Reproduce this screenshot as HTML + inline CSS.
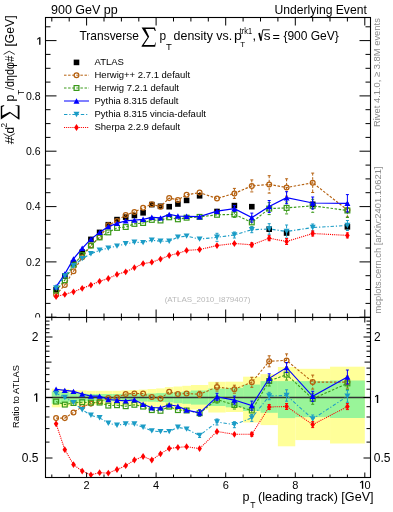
<!DOCTYPE html><html><head><meta charset="utf-8"><style>html,body{margin:0;padding:0;background:#fff;width:393px;height:512px;overflow:hidden}svg{display:block;will-change:transform}text{font-family:"Liberation Sans",sans-serif}</style></head><body><svg width="393" height="512" viewBox="0 0 393 512" font-family="Liberation Sans, sans-serif">
<defs><clipPath id="c1"><rect x="45" y="17" width="326" height="300"/></clipPath><clipPath id="c2"><rect x="45" y="317" width="326" height="160"/></clipPath></defs>
<rect width="393" height="512" fill="#fff"/>
<text x="51" y="14" font-size="12.5" fill="#000">900 GeV pp</text>
<text x="274.4" y="14" font-size="12.5" fill="#000" textLength="92.4" lengthAdjust="spacingAndGlyphs">Underlying Event</text>
<text x="207.5" y="302" font-size="8" fill="#b8b8b8" text-anchor="middle">(ATLAS_2010_I879407)</text>
<rect x="53.3" y="286.8" width="5.6" height="5.6" fill="#000"/>
<rect x="62.0" y="273.2" width="5.6" height="5.6" fill="#000"/>
<rect x="70.7" y="260.4" width="5.6" height="5.6" fill="#000"/>
<rect x="79.4" y="249.4" width="5.6" height="5.6" fill="#000"/>
<rect x="88.1" y="236.6" width="5.6" height="5.6" fill="#000"/>
<rect x="96.8" y="229.6" width="5.6" height="5.6" fill="#000"/>
<rect x="105.5" y="221.9" width="5.6" height="5.6" fill="#000"/>
<rect x="114.2" y="216.8" width="5.6" height="5.6" fill="#000"/>
<rect x="122.9" y="214.3" width="5.6" height="5.6" fill="#000"/>
<rect x="131.6" y="212.7" width="5.6" height="5.6" fill="#000"/>
<rect x="140.3" y="210.0" width="5.6" height="5.6" fill="#000"/>
<rect x="149.0" y="201.8" width="5.6" height="5.6" fill="#000"/>
<rect x="157.7" y="203.5" width="5.6" height="5.6" fill="#000"/>
<rect x="166.4" y="203.9" width="5.6" height="5.6" fill="#000"/>
<rect x="175.1" y="201.2" width="5.6" height="5.6" fill="#000"/>
<rect x="183.8" y="197.6" width="5.6" height="5.6" fill="#000"/>
<rect x="196.8" y="193.0" width="5.6" height="5.6" fill="#000"/>
<rect x="214.2" y="208.7" width="5.6" height="5.6" fill="#000"/>
<rect x="231.6" y="202.8" width="5.6" height="5.6" fill="#000"/>
<rect x="249.0" y="203.9" width="5.6" height="5.6" fill="#000"/>
<rect x="266.4" y="226.4" width="5.6" height="5.6" fill="#000"/>
<rect x="283.8" y="230.2" width="5.6" height="5.6" fill="#000"/>
<rect x="309.9" y="201.5" width="5.6" height="5.6" fill="#000"/>
<rect x="344.6" y="224.0" width="5.6" height="5.6" fill="#000"/>
<polyline points="56.1,294.8 64.8,285.0 73.5,271.2 82.2,257.2 90.9,245.5 99.6,237.2 108.3,225.3 117.0,220.9 125.7,215.0 134.4,212.0 143.1,207.7 151.8,204.2 160.5,206.7 169.2,198.1 177.9,199.9 186.6,194.8 199.6,192.6 217.0,198.5 234.4,193.4 251.8,185.9 269.2,184.4 286.6,187.5 312.7,182.8 347.4,210.0" fill="none" stroke="#b5600f" stroke-width="1.15" stroke-dasharray="2.5 1.6" clip-path="url(#c1)"/>
<path d="M234.4,188.4V198.4" stroke="#b5600f" stroke-width="1" stroke-dasharray="2.5 1.6" fill="none" clip-path="url(#c1)"/>
<path d="M232.9,188.4H235.9M232.9,198.4H235.9" stroke="#b5600f" stroke-width="1" fill="none" clip-path="url(#c1)"/>
<path d="M251.8,179.9V191.9" stroke="#b5600f" stroke-width="1" stroke-dasharray="2.5 1.6" fill="none" clip-path="url(#c1)"/>
<path d="M250.3,179.9H253.3M250.3,191.9H253.3" stroke="#b5600f" stroke-width="1" fill="none" clip-path="url(#c1)"/>
<path d="M269.2,175.7V193.1" stroke="#b5600f" stroke-width="1" stroke-dasharray="2.5 1.6" fill="none" clip-path="url(#c1)"/>
<path d="M267.7,175.7H270.7M267.7,193.1H270.7" stroke="#b5600f" stroke-width="1" fill="none" clip-path="url(#c1)"/>
<path d="M286.6,178.8V196.2" stroke="#b5600f" stroke-width="1" stroke-dasharray="2.5 1.6" fill="none" clip-path="url(#c1)"/>
<path d="M285.1,178.8H288.1M285.1,196.2H288.1" stroke="#b5600f" stroke-width="1" fill="none" clip-path="url(#c1)"/>
<path d="M312.7,173.1V192.5" stroke="#b5600f" stroke-width="1" stroke-dasharray="2.5 1.6" fill="none" clip-path="url(#c1)"/>
<path d="M311.2,173.1H314.2M311.2,192.5H314.2" stroke="#b5600f" stroke-width="1" fill="none" clip-path="url(#c1)"/>
<path d="M347.4,203.0V217.0" stroke="#b5600f" stroke-width="1" stroke-dasharray="2.5 1.6" fill="none" clip-path="url(#c1)"/>
<path d="M345.9,203.0H348.9M345.9,217.0H348.9" stroke="#b5600f" stroke-width="1" fill="none" clip-path="url(#c1)"/>
<circle cx="56.1" cy="294.8" r="2.4" fill="none" stroke="#b5600f" stroke-width="1.25"/>
<circle cx="64.8" cy="285.0" r="2.4" fill="none" stroke="#b5600f" stroke-width="1.25"/>
<circle cx="73.5" cy="271.2" r="2.4" fill="none" stroke="#b5600f" stroke-width="1.25"/>
<circle cx="82.2" cy="257.2" r="2.4" fill="none" stroke="#b5600f" stroke-width="1.25"/>
<circle cx="90.9" cy="245.5" r="2.4" fill="none" stroke="#b5600f" stroke-width="1.25"/>
<circle cx="99.6" cy="237.2" r="2.4" fill="none" stroke="#b5600f" stroke-width="1.25"/>
<circle cx="108.3" cy="225.3" r="2.4" fill="none" stroke="#b5600f" stroke-width="1.25"/>
<circle cx="117.0" cy="220.9" r="2.4" fill="none" stroke="#b5600f" stroke-width="1.25"/>
<circle cx="125.7" cy="215.0" r="2.4" fill="none" stroke="#b5600f" stroke-width="1.25"/>
<circle cx="134.4" cy="212.0" r="2.4" fill="none" stroke="#b5600f" stroke-width="1.25"/>
<circle cx="143.1" cy="207.7" r="2.4" fill="none" stroke="#b5600f" stroke-width="1.25"/>
<circle cx="151.8" cy="204.2" r="2.4" fill="none" stroke="#b5600f" stroke-width="1.25"/>
<circle cx="160.5" cy="206.7" r="2.4" fill="none" stroke="#b5600f" stroke-width="1.25"/>
<circle cx="169.2" cy="198.1" r="2.4" fill="none" stroke="#b5600f" stroke-width="1.25"/>
<circle cx="177.9" cy="199.9" r="2.4" fill="none" stroke="#b5600f" stroke-width="1.25"/>
<circle cx="186.6" cy="194.8" r="2.4" fill="none" stroke="#b5600f" stroke-width="1.25"/>
<circle cx="199.6" cy="192.6" r="2.4" fill="none" stroke="#b5600f" stroke-width="1.25"/>
<circle cx="217.0" cy="198.5" r="2.4" fill="none" stroke="#b5600f" stroke-width="1.25"/>
<circle cx="234.4" cy="193.4" r="2.4" fill="none" stroke="#b5600f" stroke-width="1.25"/>
<circle cx="251.8" cy="185.9" r="2.4" fill="none" stroke="#b5600f" stroke-width="1.25"/>
<circle cx="269.2" cy="184.4" r="2.4" fill="none" stroke="#b5600f" stroke-width="1.25"/>
<circle cx="286.6" cy="187.5" r="2.4" fill="none" stroke="#b5600f" stroke-width="1.25"/>
<circle cx="312.7" cy="182.8" r="2.4" fill="none" stroke="#b5600f" stroke-width="1.25"/>
<circle cx="347.4" cy="210.0" r="2.4" fill="none" stroke="#b5600f" stroke-width="1.25"/>
<polyline points="56.1,290.6 64.8,280.2 73.5,264.6 82.2,255.1 90.9,245.5 99.6,237.4 108.3,232.4 117.0,227.9 125.7,227.0 134.4,223.9 143.1,223.0 151.8,219.9 160.5,220.5 169.2,217.3 177.9,219.3 186.6,217.7 199.6,216.9 217.0,214.8 234.4,214.4 251.8,222.4 269.2,208.6 286.6,207.9 312.7,205.8 347.4,210.5" fill="none" stroke="#3a9a1a" stroke-width="1.15" stroke-dasharray="2.5 1.6" clip-path="url(#c1)"/>
<path d="M234.4,211.4V217.4" stroke="#3a9a1a" stroke-width="1" stroke-dasharray="2.5 1.6" fill="none" clip-path="url(#c1)"/>
<path d="M232.9,211.4H235.9M232.9,217.4H235.9" stroke="#3a9a1a" stroke-width="1" fill="none" clip-path="url(#c1)"/>
<path d="M251.8,217.9V226.9" stroke="#3a9a1a" stroke-width="1" stroke-dasharray="2.5 1.6" fill="none" clip-path="url(#c1)"/>
<path d="M250.3,217.9H253.3M250.3,226.9H253.3" stroke="#3a9a1a" stroke-width="1" fill="none" clip-path="url(#c1)"/>
<path d="M269.2,202.6V214.6" stroke="#3a9a1a" stroke-width="1" stroke-dasharray="2.5 1.6" fill="none" clip-path="url(#c1)"/>
<path d="M267.7,202.6H270.7M267.7,214.6H270.7" stroke="#3a9a1a" stroke-width="1" fill="none" clip-path="url(#c1)"/>
<path d="M286.6,201.9V213.9" stroke="#3a9a1a" stroke-width="1" stroke-dasharray="2.5 1.6" fill="none" clip-path="url(#c1)"/>
<path d="M285.1,201.9H288.1M285.1,213.9H288.1" stroke="#3a9a1a" stroke-width="1" fill="none" clip-path="url(#c1)"/>
<path d="M312.7,199.3V212.3" stroke="#3a9a1a" stroke-width="1" stroke-dasharray="2.5 1.6" fill="none" clip-path="url(#c1)"/>
<path d="M311.2,199.3H314.2M311.2,212.3H314.2" stroke="#3a9a1a" stroke-width="1" fill="none" clip-path="url(#c1)"/>
<path d="M347.4,203.5V217.5" stroke="#3a9a1a" stroke-width="1" stroke-dasharray="2.5 1.6" fill="none" clip-path="url(#c1)"/>
<path d="M345.9,203.5H348.9M345.9,217.5H348.9" stroke="#3a9a1a" stroke-width="1" fill="none" clip-path="url(#c1)"/>
<rect x="53.7" y="288.2" width="4.8" height="4.8" fill="none" stroke="#3a9a1a" stroke-width="1.2"/>
<rect x="62.4" y="277.8" width="4.8" height="4.8" fill="none" stroke="#3a9a1a" stroke-width="1.2"/>
<rect x="71.1" y="262.2" width="4.8" height="4.8" fill="none" stroke="#3a9a1a" stroke-width="1.2"/>
<rect x="79.8" y="252.7" width="4.8" height="4.8" fill="none" stroke="#3a9a1a" stroke-width="1.2"/>
<rect x="88.5" y="243.1" width="4.8" height="4.8" fill="none" stroke="#3a9a1a" stroke-width="1.2"/>
<rect x="97.2" y="235.0" width="4.8" height="4.8" fill="none" stroke="#3a9a1a" stroke-width="1.2"/>
<rect x="105.9" y="230.0" width="4.8" height="4.8" fill="none" stroke="#3a9a1a" stroke-width="1.2"/>
<rect x="114.6" y="225.5" width="4.8" height="4.8" fill="none" stroke="#3a9a1a" stroke-width="1.2"/>
<rect x="123.3" y="224.6" width="4.8" height="4.8" fill="none" stroke="#3a9a1a" stroke-width="1.2"/>
<rect x="132.0" y="221.5" width="4.8" height="4.8" fill="none" stroke="#3a9a1a" stroke-width="1.2"/>
<rect x="140.7" y="220.6" width="4.8" height="4.8" fill="none" stroke="#3a9a1a" stroke-width="1.2"/>
<rect x="149.4" y="217.5" width="4.8" height="4.8" fill="none" stroke="#3a9a1a" stroke-width="1.2"/>
<rect x="158.1" y="218.1" width="4.8" height="4.8" fill="none" stroke="#3a9a1a" stroke-width="1.2"/>
<rect x="166.8" y="214.9" width="4.8" height="4.8" fill="none" stroke="#3a9a1a" stroke-width="1.2"/>
<rect x="175.5" y="216.9" width="4.8" height="4.8" fill="none" stroke="#3a9a1a" stroke-width="1.2"/>
<rect x="184.2" y="215.3" width="4.8" height="4.8" fill="none" stroke="#3a9a1a" stroke-width="1.2"/>
<rect x="197.2" y="214.5" width="4.8" height="4.8" fill="none" stroke="#3a9a1a" stroke-width="1.2"/>
<rect x="214.6" y="212.4" width="4.8" height="4.8" fill="none" stroke="#3a9a1a" stroke-width="1.2"/>
<rect x="232.0" y="212.0" width="4.8" height="4.8" fill="none" stroke="#3a9a1a" stroke-width="1.2"/>
<rect x="249.4" y="220.0" width="4.8" height="4.8" fill="none" stroke="#3a9a1a" stroke-width="1.2"/>
<rect x="266.8" y="206.2" width="4.8" height="4.8" fill="none" stroke="#3a9a1a" stroke-width="1.2"/>
<rect x="284.2" y="205.5" width="4.8" height="4.8" fill="none" stroke="#3a9a1a" stroke-width="1.2"/>
<rect x="310.3" y="203.4" width="4.8" height="4.8" fill="none" stroke="#3a9a1a" stroke-width="1.2"/>
<rect x="345.0" y="208.1" width="4.8" height="4.8" fill="none" stroke="#3a9a1a" stroke-width="1.2"/>
<polyline points="56.1,286.8 64.8,274.0 73.5,258.9 82.2,248.3 90.9,239.1 99.6,232.4 108.3,226.6 117.0,223.4 125.7,220.9 134.4,220.1 143.1,219.3 151.8,217.3 160.5,217.9 169.2,214.4 177.9,216.0 186.6,216.3 199.6,216.7 217.0,211.2 234.4,208.6 251.8,217.6 269.2,206.5 286.6,197.7 312.7,203.0 347.4,203.3" fill="none" stroke="#0000ff" stroke-width="1.25" clip-path="url(#c1)"/>
<path d="M234.4,205.6V211.6" stroke="#0000ff" stroke-width="1" fill="none" clip-path="url(#c1)"/>
<path d="M232.9,205.6H235.9M232.9,211.6H235.9" stroke="#0000ff" stroke-width="1" fill="none" clip-path="url(#c1)"/>
<path d="M251.8,213.1V222.1" stroke="#0000ff" stroke-width="1" fill="none" clip-path="url(#c1)"/>
<path d="M250.3,213.1H253.3M250.3,222.1H253.3" stroke="#0000ff" stroke-width="1" fill="none" clip-path="url(#c1)"/>
<path d="M269.2,200.5V212.5" stroke="#0000ff" stroke-width="1" fill="none" clip-path="url(#c1)"/>
<path d="M267.7,200.5H270.7M267.7,212.5H270.7" stroke="#0000ff" stroke-width="1" fill="none" clip-path="url(#c1)"/>
<path d="M286.6,191.7V203.7" stroke="#0000ff" stroke-width="1" fill="none" clip-path="url(#c1)"/>
<path d="M285.1,191.7H288.1M285.1,203.7H288.1" stroke="#0000ff" stroke-width="1" fill="none" clip-path="url(#c1)"/>
<path d="M312.7,197.0V209.0" stroke="#0000ff" stroke-width="1" fill="none" clip-path="url(#c1)"/>
<path d="M311.2,197.0H314.2M311.2,209.0H314.2" stroke="#0000ff" stroke-width="1" fill="none" clip-path="url(#c1)"/>
<path d="M347.4,194.6V212.0" stroke="#0000ff" stroke-width="1" fill="none" clip-path="url(#c1)"/>
<path d="M345.9,194.6H348.9M345.9,212.0H348.9" stroke="#0000ff" stroke-width="1" fill="none" clip-path="url(#c1)"/>
<path d="M56.1,284.1L59.1,289.5L53.1,289.5Z" fill="#0000ff"/>
<path d="M64.8,271.3L67.8,276.7L61.8,276.7Z" fill="#0000ff"/>
<path d="M73.5,256.2L76.5,261.6L70.5,261.6Z" fill="#0000ff"/>
<path d="M82.2,245.6L85.2,251.0L79.2,251.0Z" fill="#0000ff"/>
<path d="M90.9,236.4L93.9,241.8L87.9,241.8Z" fill="#0000ff"/>
<path d="M99.6,229.7L102.6,235.1L96.6,235.1Z" fill="#0000ff"/>
<path d="M108.3,223.9L111.3,229.3L105.3,229.3Z" fill="#0000ff"/>
<path d="M117.0,220.7L120.0,226.1L114.0,226.1Z" fill="#0000ff"/>
<path d="M125.7,218.2L128.7,223.6L122.7,223.6Z" fill="#0000ff"/>
<path d="M134.4,217.4L137.4,222.8L131.4,222.8Z" fill="#0000ff"/>
<path d="M143.1,216.6L146.1,222.0L140.1,222.0Z" fill="#0000ff"/>
<path d="M151.8,214.6L154.8,220.0L148.8,220.0Z" fill="#0000ff"/>
<path d="M160.5,215.2L163.5,220.6L157.5,220.6Z" fill="#0000ff"/>
<path d="M169.2,211.7L172.2,217.1L166.2,217.1Z" fill="#0000ff"/>
<path d="M177.9,213.3L180.9,218.7L174.9,218.7Z" fill="#0000ff"/>
<path d="M186.6,213.6L189.6,219.0L183.6,219.0Z" fill="#0000ff"/>
<path d="M199.6,214.0L202.6,219.4L196.6,219.4Z" fill="#0000ff"/>
<path d="M217.0,208.5L220.0,213.9L214.0,213.9Z" fill="#0000ff"/>
<path d="M234.4,205.9L237.4,211.3L231.4,211.3Z" fill="#0000ff"/>
<path d="M251.8,214.9L254.8,220.3L248.8,220.3Z" fill="#0000ff"/>
<path d="M269.2,203.8L272.2,209.2L266.2,209.2Z" fill="#0000ff"/>
<path d="M286.6,195.0L289.6,200.4L283.6,200.4Z" fill="#0000ff"/>
<path d="M312.7,200.3L315.7,205.7L309.7,205.7Z" fill="#0000ff"/>
<path d="M347.4,200.6L350.4,206.0L344.4,206.0Z" fill="#0000ff"/>
<polyline points="56.1,288.0 64.8,276.0 73.5,265.8 82.2,258.6 90.9,253.8 99.6,250.2 108.3,248.1 117.0,246.1 125.7,243.8 134.4,242.3 143.1,242.6 151.8,240.2 160.5,241.2 169.2,241.2 177.9,237.1 186.6,236.1 199.6,239.1 217.0,237.3 234.4,235.0 251.8,229.7 269.2,229.0 286.6,231.5 312.7,227.5 347.4,225.5" fill="none" stroke="#1b9cc6" stroke-width="1.15" stroke-dasharray="3.4 1.9 1.2 1.9" clip-path="url(#c1)"/>
<path d="M217.0,233.3V241.3" stroke="#1b9cc6" stroke-width="1" stroke-dasharray="3.4 1.9 1.2 1.9" fill="none" clip-path="url(#c1)"/>
<path d="M215.5,233.3H218.5M215.5,241.3H218.5" stroke="#1b9cc6" stroke-width="1" fill="none" clip-path="url(#c1)"/>
<path d="M234.4,232.0V238.0" stroke="#1b9cc6" stroke-width="1" stroke-dasharray="3.4 1.9 1.2 1.9" fill="none" clip-path="url(#c1)"/>
<path d="M232.9,232.0H235.9M232.9,238.0H235.9" stroke="#1b9cc6" stroke-width="1" fill="none" clip-path="url(#c1)"/>
<path d="M251.8,226.7V232.7" stroke="#1b9cc6" stroke-width="1" stroke-dasharray="3.4 1.9 1.2 1.9" fill="none" clip-path="url(#c1)"/>
<path d="M250.3,226.7H253.3M250.3,232.7H253.3" stroke="#1b9cc6" stroke-width="1" fill="none" clip-path="url(#c1)"/>
<path d="M269.2,223.7V234.3" stroke="#1b9cc6" stroke-width="1" stroke-dasharray="3.4 1.9 1.2 1.9" fill="none" clip-path="url(#c1)"/>
<path d="M267.7,223.7H270.7M267.7,234.3H270.7" stroke="#1b9cc6" stroke-width="1" fill="none" clip-path="url(#c1)"/>
<path d="M286.6,225.0V238.0" stroke="#1b9cc6" stroke-width="1" stroke-dasharray="3.4 1.9 1.2 1.9" fill="none" clip-path="url(#c1)"/>
<path d="M285.1,225.0H288.1M285.1,238.0H288.1" stroke="#1b9cc6" stroke-width="1" fill="none" clip-path="url(#c1)"/>
<path d="M312.7,224.0V231.0" stroke="#1b9cc6" stroke-width="1" stroke-dasharray="3.4 1.9 1.2 1.9" fill="none" clip-path="url(#c1)"/>
<path d="M311.2,224.0H314.2M311.2,231.0H314.2" stroke="#1b9cc6" stroke-width="1" fill="none" clip-path="url(#c1)"/>
<path d="M347.4,220.5V230.5" stroke="#1b9cc6" stroke-width="1" stroke-dasharray="3.4 1.9 1.2 1.9" fill="none" clip-path="url(#c1)"/>
<path d="M345.9,220.5H348.9M345.9,230.5H348.9" stroke="#1b9cc6" stroke-width="1" fill="none" clip-path="url(#c1)"/>
<path d="M56.1,290.7L59.1,285.3L53.1,285.3Z" fill="#1b9cc6"/>
<path d="M64.8,278.7L67.8,273.3L61.8,273.3Z" fill="#1b9cc6"/>
<path d="M73.5,268.5L76.5,263.1L70.5,263.1Z" fill="#1b9cc6"/>
<path d="M82.2,261.3L85.2,255.9L79.2,255.9Z" fill="#1b9cc6"/>
<path d="M90.9,256.5L93.9,251.1L87.9,251.1Z" fill="#1b9cc6"/>
<path d="M99.6,252.9L102.6,247.5L96.6,247.5Z" fill="#1b9cc6"/>
<path d="M108.3,250.8L111.3,245.4L105.3,245.4Z" fill="#1b9cc6"/>
<path d="M117.0,248.8L120.0,243.4L114.0,243.4Z" fill="#1b9cc6"/>
<path d="M125.7,246.5L128.7,241.1L122.7,241.1Z" fill="#1b9cc6"/>
<path d="M134.4,245.0L137.4,239.6L131.4,239.6Z" fill="#1b9cc6"/>
<path d="M143.1,245.3L146.1,239.9L140.1,239.9Z" fill="#1b9cc6"/>
<path d="M151.8,242.9L154.8,237.5L148.8,237.5Z" fill="#1b9cc6"/>
<path d="M160.5,243.9L163.5,238.5L157.5,238.5Z" fill="#1b9cc6"/>
<path d="M169.2,243.9L172.2,238.5L166.2,238.5Z" fill="#1b9cc6"/>
<path d="M177.9,239.8L180.9,234.4L174.9,234.4Z" fill="#1b9cc6"/>
<path d="M186.6,238.8L189.6,233.4L183.6,233.4Z" fill="#1b9cc6"/>
<path d="M199.6,241.8L202.6,236.4L196.6,236.4Z" fill="#1b9cc6"/>
<path d="M217.0,240.0L220.0,234.6L214.0,234.6Z" fill="#1b9cc6"/>
<path d="M234.4,237.7L237.4,232.3L231.4,232.3Z" fill="#1b9cc6"/>
<path d="M251.8,232.4L254.8,227.0L248.8,227.0Z" fill="#1b9cc6"/>
<path d="M269.2,231.7L272.2,226.3L266.2,226.3Z" fill="#1b9cc6"/>
<path d="M286.6,234.2L289.6,228.8L283.6,228.8Z" fill="#1b9cc6"/>
<path d="M312.7,230.2L315.7,224.8L309.7,224.8Z" fill="#1b9cc6"/>
<path d="M347.4,228.2L350.4,222.8L344.4,222.8Z" fill="#1b9cc6"/>
<polyline points="56.1,296.5 64.8,294.4 73.5,291.8 82.2,288.3 90.9,285.1 99.6,281.3 108.3,278.5 117.0,274.4 125.7,271.8 134.4,267.7 143.1,263.6 151.8,262.2 160.5,259.1 169.2,255.5 177.9,253.4 186.6,250.4 199.6,249.5 217.0,245.6 234.4,243.5 251.8,244.8 269.2,238.2 286.6,241.5 312.7,233.5 347.4,235.4" fill="none" stroke="#ff0000" stroke-width="1.15" stroke-dasharray="1.1 1.0" clip-path="url(#c1)"/>
<path d="M251.8,242.8V246.8" stroke="#ff0000" stroke-width="1" stroke-dasharray="1.1 1.0" fill="none" clip-path="url(#c1)"/>
<path d="M250.3,242.8H253.3M250.3,246.8H253.3" stroke="#ff0000" stroke-width="1" fill="none" clip-path="url(#c1)"/>
<path d="M269.2,235.7V240.7" stroke="#ff0000" stroke-width="1" stroke-dasharray="1.1 1.0" fill="none" clip-path="url(#c1)"/>
<path d="M267.7,235.7H270.7M267.7,240.7H270.7" stroke="#ff0000" stroke-width="1" fill="none" clip-path="url(#c1)"/>
<path d="M286.6,238.5V244.5" stroke="#ff0000" stroke-width="1" stroke-dasharray="1.1 1.0" fill="none" clip-path="url(#c1)"/>
<path d="M285.1,238.5H288.1M285.1,244.5H288.1" stroke="#ff0000" stroke-width="1" fill="none" clip-path="url(#c1)"/>
<path d="M312.7,231.0V236.0" stroke="#ff0000" stroke-width="1" stroke-dasharray="1.1 1.0" fill="none" clip-path="url(#c1)"/>
<path d="M311.2,231.0H314.2M311.2,236.0H314.2" stroke="#ff0000" stroke-width="1" fill="none" clip-path="url(#c1)"/>
<path d="M347.4,232.9V237.9" stroke="#ff0000" stroke-width="1" stroke-dasharray="1.1 1.0" fill="none" clip-path="url(#c1)"/>
<path d="M345.9,232.9H348.9M345.9,237.9H348.9" stroke="#ff0000" stroke-width="1" fill="none" clip-path="url(#c1)"/>
<path d="M56.1,293.1L58.4,296.5L56.1,299.9L53.8,296.5Z" fill="#ff0000"/>
<path d="M64.8,291.0L67.1,294.4L64.8,297.8L62.5,294.4Z" fill="#ff0000"/>
<path d="M73.5,288.4L75.8,291.8L73.5,295.2L71.2,291.8Z" fill="#ff0000"/>
<path d="M82.2,284.9L84.5,288.3L82.2,291.7L79.9,288.3Z" fill="#ff0000"/>
<path d="M90.9,281.7L93.2,285.1L90.9,288.5L88.6,285.1Z" fill="#ff0000"/>
<path d="M99.6,277.9L101.9,281.3L99.6,284.7L97.3,281.3Z" fill="#ff0000"/>
<path d="M108.3,275.1L110.6,278.5L108.3,281.9L106.0,278.5Z" fill="#ff0000"/>
<path d="M117.0,271.0L119.3,274.4L117.0,277.8L114.7,274.4Z" fill="#ff0000"/>
<path d="M125.7,268.4L128.0,271.8L125.7,275.2L123.4,271.8Z" fill="#ff0000"/>
<path d="M134.4,264.3L136.7,267.7L134.4,271.1L132.1,267.7Z" fill="#ff0000"/>
<path d="M143.1,260.2L145.4,263.6L143.1,267.0L140.8,263.6Z" fill="#ff0000"/>
<path d="M151.8,258.8L154.1,262.2L151.8,265.6L149.5,262.2Z" fill="#ff0000"/>
<path d="M160.5,255.7L162.8,259.1L160.5,262.5L158.2,259.1Z" fill="#ff0000"/>
<path d="M169.2,252.1L171.5,255.5L169.2,258.9L166.9,255.5Z" fill="#ff0000"/>
<path d="M177.9,250.0L180.2,253.4L177.9,256.8L175.6,253.4Z" fill="#ff0000"/>
<path d="M186.6,247.0L188.9,250.4L186.6,253.8L184.3,250.4Z" fill="#ff0000"/>
<path d="M199.6,246.1L201.9,249.5L199.6,252.9L197.3,249.5Z" fill="#ff0000"/>
<path d="M217.0,242.2L219.3,245.6L217.0,249.0L214.7,245.6Z" fill="#ff0000"/>
<path d="M234.4,240.1L236.7,243.5L234.4,246.9L232.1,243.5Z" fill="#ff0000"/>
<path d="M251.8,241.4L254.1,244.8L251.8,248.2L249.5,244.8Z" fill="#ff0000"/>
<path d="M269.2,234.8L271.5,238.2L269.2,241.6L266.9,238.2Z" fill="#ff0000"/>
<path d="M286.6,238.1L288.9,241.5L286.6,244.9L284.3,241.5Z" fill="#ff0000"/>
<path d="M312.7,230.1L315.0,233.5L312.7,236.9L310.4,233.5Z" fill="#ff0000"/>
<path d="M347.4,232.0L349.7,235.4L347.4,238.8L345.1,235.4Z" fill="#ff0000"/>
<text x="79.5" y="40.4" font-size="13.2" fill="#000" textLength="59.4" lengthAdjust="spacingAndGlyphs">Transverse</text>
<path d="M141.60,27.60L154.90,27.60L155.76,31.04L154.90,31.04L153.90,29.03L145.46,29.03L149.18,36.86L143.75,44.89L154.47,44.89L155.76,41.93L155.90,41.93L155.19,46.70L141.60,46.70L141.60,45.94L147.61,37.15Z" fill="#000"/>
<text x="159.6" y="40.2" font-size="12.8" fill="#000" textLength="6.6" lengthAdjust="spacingAndGlyphs">p</text>
<text x="166.0" y="50.4" font-size="8.6" fill="#000" textLength="5.8" lengthAdjust="spacingAndGlyphs">T</text>
<text x="173.6" y="40.2" font-size="12.8" fill="#000" textLength="58.6" lengthAdjust="spacingAndGlyphs">density vs.</text>
<text x="233.9" y="40.2" font-size="13.4" fill="#000" textLength="7.8" lengthAdjust="spacingAndGlyphs">p</text>
<text x="239.8" y="34.3" font-size="8.5" fill="#000" textLength="12.2" lengthAdjust="spacingAndGlyphs">trk1</text>
<text x="240.2" y="46.6" font-size="8.0" fill="#000">T</text>
<text x="252.6" y="40.2" font-size="12.8" fill="#000">,</text>
<path d="M259.1,33.0L261.0,40.6" fill="none" stroke="#000" stroke-width="1.7"/><path d="M261.0,40.6L262.8,29.8H269.8" fill="none" stroke="#000" stroke-width="0.9"/>
<text x="263.8" y="40.2" font-size="12.8" fill="#000" textLength="6.8" lengthAdjust="spacingAndGlyphs">s</text>
<text x="272.4" y="40.6" font-size="12" fill="#000" textLength="7.4" lengthAdjust="spacingAndGlyphs">=</text>
<text x="283.4" y="40.2" font-size="12.8" fill="#000" textLength="55.4" lengthAdjust="spacingAndGlyphs">{900 GeV}</text>
<text x="94.5" y="65.1" font-size="9.5" fill="#000">ATLAS</text>
<text x="94.5" y="77.9" font-size="9.5" fill="#000">Herwig++ 2.7.1 default</text>
<text x="94.5" y="90.7" font-size="9.5" fill="#000">Herwig 7.2.1 default</text>
<text x="94.5" y="103.7" font-size="9.5" fill="#000">Pythia 8.315 default</text>
<text x="94.5" y="117.2" font-size="9.5" fill="#000">Pythia 8.315 vincia-default</text>
<text x="94.5" y="130.2" font-size="9.5" fill="#000">Sherpa 2.2.9 default</text>
<rect x="73.7" y="59.6" width="5.6" height="5.6" fill="#000"/>
<polyline points="64.0,75.2 89.0,75.2" fill="none" stroke="#b5600f" stroke-width="1.0" stroke-dasharray="2.5 1.6"/>
<circle cx="76.5" cy="75.2" r="2.4" fill="none" stroke="#b5600f" stroke-width="1.25"/>
<polyline points="64.0,88.0 89.0,88.0" fill="none" stroke="#3a9a1a" stroke-width="1.0" stroke-dasharray="2.5 1.6"/>
<rect x="74.1" y="85.6" width="4.8" height="4.8" fill="none" stroke="#3a9a1a" stroke-width="1.2"/>
<polyline points="64.0,101.0 89.0,101.0" fill="none" stroke="#0000ff" stroke-width="1.0"/>
<path d="M76.5,98.3L79.5,103.7L73.5,103.7Z" fill="#0000ff"/>
<polyline points="64.0,114.5 89.0,114.5" fill="none" stroke="#1b9cc6" stroke-width="1.0" stroke-dasharray="3.4 1.9 1.2 1.9"/>
<path d="M76.5,117.2L79.5,111.8L73.5,111.8Z" fill="#1b9cc6"/>
<polyline points="64.0,127.5 89.0,127.5" fill="none" stroke="#ff0000" stroke-width="1.0" stroke-dasharray="1.1 1.0"/>
<path d="M76.5,124.1L78.8,127.5L76.5,130.9L74.2,127.5Z" fill="#ff0000"/>
<rect x="45.5" y="17.5" width="325.0" height="300.0" fill="none" stroke="#000" stroke-width="1.1"/>
<path d="M51.8,17.5v4M51.8,317.5v-4M69.2,17.5v4M69.2,317.5v-4M86.6,17.5v8M86.6,317.5v-8M104.0,17.5v4M104.0,317.5v-4M121.4,17.5v4M121.4,317.5v-4M138.8,17.5v4M138.8,317.5v-4M156.1,17.5v8M156.1,317.5v-8M173.5,17.5v4M173.5,317.5v-4M190.9,17.5v4M190.9,317.5v-4M208.3,17.5v4M208.3,317.5v-4M225.7,17.5v8M225.7,317.5v-8M243.1,17.5v4M243.1,317.5v-4M260.5,17.5v4M260.5,317.5v-4M277.9,17.5v4M277.9,317.5v-4M295.3,17.5v8M295.3,317.5v-8M312.7,17.5v4M312.7,317.5v-4M330.0,17.5v4M330.0,317.5v-4M347.4,17.5v4M347.4,317.5v-4M364.8,17.5v8M364.8,317.5v-8M45.5,317.2h11M370.5,317.2h-11M45.5,303.4h5M370.5,303.4h-5M45.5,289.5h5M370.5,289.5h-5M45.5,275.7h5M370.5,275.7h-5M45.5,261.9h11M370.5,261.9h-11M45.5,248.0h5M370.5,248.0h-5M45.5,234.2h5M370.5,234.2h-5M45.5,220.4h5M370.5,220.4h-5M45.5,206.6h11M370.5,206.6h-11M45.5,192.7h5M370.5,192.7h-5M45.5,178.9h5M370.5,178.9h-5M45.5,165.1h5M370.5,165.1h-5M45.5,151.2h11M370.5,151.2h-11M45.5,137.4h5M370.5,137.4h-5M45.5,123.6h5M370.5,123.6h-5M45.5,109.7h5M370.5,109.7h-5M45.5,95.9h11M370.5,95.9h-11M45.5,82.1h5M370.5,82.1h-5M45.5,68.3h5M370.5,68.3h-5M45.5,54.4h5M370.5,54.4h-5M45.5,40.6h11M370.5,40.6h-11M45.5,26.8h5M370.5,26.8h-5" stroke="#000" stroke-width="1" fill="none"/>
<path d="M39.80,37.30V44.80" stroke="#000" stroke-width="1.3" fill="none"/><path d="M39.50,37.60L37.20,39.30" stroke="#000" stroke-width="1.05" fill="none"/>
<text x="40.5" y="99.7" font-size="10.5" text-anchor="end" fill="#000">0.8</text>
<text x="40.5" y="155.0" font-size="10.5" text-anchor="end" fill="#000">0.6</text>
<text x="40.5" y="210.4" font-size="10.5" text-anchor="end" fill="#000">0.4</text>
<text x="40.5" y="265.7" font-size="10.5" text-anchor="end" fill="#000">0.2</text>
<text x="40.5" y="321.0" font-size="10.5" text-anchor="end" fill="#000">0</text>
<g transform="translate(14,144) rotate(-90)">
<text x="-0.3" y="0" font-size="12.5" fill="#000" textLength="7.8" lengthAdjust="spacingAndGlyphs">#</text>
<path d="M10.4,-10.4L7.4,-4.8L10.4,0.8" fill="none" stroke="#000" stroke-width="0.8"/>
<text x="10.6" y="0" font-size="12.5" fill="#000" textLength="6.6" lengthAdjust="spacingAndGlyphs">d</text>
<text x="16.6" y="-7.2" font-size="8.2" fill="#000" textLength="4.6" lengthAdjust="spacingAndGlyphs">2</text>
<path d="M24.60,-13.20L38.09,-13.20L38.95,-9.83L38.09,-9.83L37.07,-11.80L28.52,-11.80L32.29,-4.13L26.78,3.72L37.65,3.72L38.95,0.82L39.10,0.82L38.38,5.50L24.60,5.50L24.60,4.75L30.69,-3.85Z" fill="#000"/>
<text x="42.4" y="-0.4" font-size="12.5" fill="#000" textLength="6.8" lengthAdjust="spacingAndGlyphs">p</text>
<text x="49.2" y="9.8" font-size="8.2" fill="#000" textLength="5.0" lengthAdjust="spacingAndGlyphs">T</text>
<text x="54.0" y="0" font-size="12.5" fill="#000" textLength="34.2" lengthAdjust="spacingAndGlyphs">/d&#951;d&#966;#</text>
<path d="M89.6,-10.4L92.8,-4.8L89.6,0.8" fill="none" stroke="#000" stroke-width="0.8"/>
<text x="97.4" y="0" font-size="12.5" fill="#000" textLength="31.2" lengthAdjust="spacingAndGlyphs">[GeV]</text>
</g>
<text transform="translate(379.8,127) rotate(-90)" font-size="9.4" fill="#8a8a8a">Rivet 4.1.0, &#8805; 3.8M events</text>
<text transform="translate(380.5,313.5) rotate(-90)" font-size="9.4" fill="#8a8a8a">mcplots.cern.ch [arXiv:2401.10621]</text>
<rect x="0" y="317.5" width="393" height="194.5" fill="#fff"/>
<rect x="51.80" y="388.7" width="8.70" height="18.6" fill="#ffff99"/>
<rect x="60.49" y="389.2" width="8.70" height="17.5" fill="#ffff99"/>
<rect x="69.19" y="390.0" width="8.69" height="15.8" fill="#ffff99"/>
<rect x="77.88" y="390.4" width="8.70" height="14.9" fill="#ffff99"/>
<rect x="86.58" y="390.8" width="8.70" height="14.0" fill="#ffff99"/>
<rect x="95.28" y="390.8" width="8.69" height="14.0" fill="#ffff99"/>
<rect x="103.97" y="390.8" width="8.69" height="14.0" fill="#ffff99"/>
<rect x="112.66" y="390.8" width="8.70" height="14.0" fill="#ffff99"/>
<rect x="121.36" y="390.4" width="8.70" height="14.9" fill="#ffff99"/>
<rect x="130.06" y="390.0" width="8.69" height="15.8" fill="#ffff99"/>
<rect x="138.75" y="389.6" width="8.69" height="16.6" fill="#ffff99"/>
<rect x="147.44" y="389.0" width="8.69" height="17.9" fill="#ffff99"/>
<rect x="156.14" y="388.4" width="8.69" height="19.3" fill="#ffff99"/>
<rect x="164.83" y="387.1" width="8.70" height="22.1" fill="#ffff99"/>
<rect x="173.53" y="386.5" width="8.70" height="23.5" fill="#ffff99"/>
<rect x="182.23" y="385.8" width="8.69" height="25.1" fill="#ffff99"/>
<rect x="190.92" y="385.0" width="17.39" height="24.5" fill="#ffff99"/>
<rect x="208.31" y="381.8" width="17.39" height="30.7" fill="#ffff99"/>
<rect x="225.70" y="381.7" width="17.39" height="30.3" fill="#ffff99"/>
<rect x="243.09" y="376.7" width="17.39" height="45.8" fill="#ffff99"/>
<rect x="260.48" y="374.1" width="17.39" height="51.0" fill="#ffff99"/>
<rect x="277.87" y="367.0" width="17.39" height="79.3" fill="#ffff99"/>
<rect x="295.26" y="368.8" width="34.78" height="71.3" fill="#ffff99"/>
<rect x="330.04" y="366.7" width="34.78" height="76.8" fill="#ffff99"/>
<rect x="51.80" y="391.6" width="8.70" height="12.2" fill="#99f599"/>
<rect x="60.49" y="392.0" width="8.70" height="11.4" fill="#99f599"/>
<rect x="69.19" y="393.2" width="8.69" height="8.7" fill="#99f599"/>
<rect x="77.88" y="393.6" width="8.70" height="7.9" fill="#99f599"/>
<rect x="86.58" y="394.0" width="8.70" height="7.2" fill="#99f599"/>
<rect x="95.28" y="394.0" width="8.69" height="7.2" fill="#99f599"/>
<rect x="103.97" y="394.0" width="8.69" height="7.2" fill="#99f599"/>
<rect x="112.66" y="394.0" width="8.70" height="7.2" fill="#99f599"/>
<rect x="121.36" y="393.8" width="8.70" height="7.5" fill="#99f599"/>
<rect x="130.06" y="393.6" width="8.69" height="7.9" fill="#99f599"/>
<rect x="138.75" y="393.6" width="8.69" height="8.0" fill="#99f599"/>
<rect x="147.44" y="393.5" width="8.69" height="8.2" fill="#99f599"/>
<rect x="156.14" y="393.1" width="8.69" height="8.9" fill="#99f599"/>
<rect x="164.83" y="392.8" width="8.70" height="9.6" fill="#99f599"/>
<rect x="173.53" y="392.2" width="8.70" height="11.0" fill="#99f599"/>
<rect x="182.23" y="391.6" width="8.69" height="12.2" fill="#99f599"/>
<rect x="190.92" y="390.5" width="17.39" height="14.1" fill="#99f599"/>
<rect x="208.31" y="388.6" width="17.39" height="17.4" fill="#99f599"/>
<rect x="225.70" y="387.8" width="17.39" height="19.5" fill="#99f599"/>
<rect x="243.09" y="384.6" width="17.39" height="26.4" fill="#99f599"/>
<rect x="260.48" y="381.1" width="17.39" height="31.7" fill="#99f599"/>
<rect x="277.87" y="381.1" width="17.39" height="37.0" fill="#99f599"/>
<rect x="295.26" y="381.1" width="34.78" height="36.1" fill="#99f599"/>
<rect x="330.04" y="380.5" width="34.78" height="37.5" fill="#99f599"/>
<path d="M45.5,397.5H370.5" stroke="#333" stroke-width="1.3"/>
<polyline points="56.1,418.1 64.8,418.1 73.5,412.4 82.2,406.8 90.9,403.6 99.6,401.5 108.3,398.1 117.0,397.5 125.7,394.0 134.4,393.4 143.1,393.6 151.8,397.0 160.5,398.6 169.2,391.8 177.9,394.0 186.6,393.4 199.6,394.3 217.0,387.0 234.4,389.2 251.8,382.3 269.2,361.3 286.6,360.4 312.7,382.1 347.4,382.1" fill="none" stroke="#b5600f" stroke-width="1.05" stroke-dasharray="2.5 1.6" clip-path="url(#c2)"/>
<path d="M199.6,391.3V397.3" stroke="#b5600f" stroke-width="1" stroke-dasharray="2.5 1.6" fill="none" clip-path="url(#c2)"/>
<path d="M198.1,391.3H201.1M198.1,397.3H201.1" stroke="#b5600f" stroke-width="1" fill="none" clip-path="url(#c2)"/>
<path d="M217.0,383.0V391.0" stroke="#b5600f" stroke-width="1" stroke-dasharray="2.5 1.6" fill="none" clip-path="url(#c2)"/>
<path d="M215.5,383.0H218.5M215.5,391.0H218.5" stroke="#b5600f" stroke-width="1" fill="none" clip-path="url(#c2)"/>
<path d="M234.4,385.2V393.2" stroke="#b5600f" stroke-width="1" stroke-dasharray="2.5 1.6" fill="none" clip-path="url(#c2)"/>
<path d="M232.9,385.2H235.9M232.9,393.2H235.9" stroke="#b5600f" stroke-width="1" fill="none" clip-path="url(#c2)"/>
<path d="M251.8,377.3V387.3" stroke="#b5600f" stroke-width="1" stroke-dasharray="2.5 1.6" fill="none" clip-path="url(#c2)"/>
<path d="M250.3,377.3H253.3M250.3,387.3H253.3" stroke="#b5600f" stroke-width="1" fill="none" clip-path="url(#c2)"/>
<path d="M269.2,355.8V366.8" stroke="#b5600f" stroke-width="1" stroke-dasharray="2.5 1.6" fill="none" clip-path="url(#c2)"/>
<path d="M267.7,355.8H270.7M267.7,366.8H270.7" stroke="#b5600f" stroke-width="1" fill="none" clip-path="url(#c2)"/>
<path d="M286.6,353.9V366.9" stroke="#b5600f" stroke-width="1" stroke-dasharray="2.5 1.6" fill="none" clip-path="url(#c2)"/>
<path d="M285.1,353.9H288.1M285.1,366.9H288.1" stroke="#b5600f" stroke-width="1" fill="none" clip-path="url(#c2)"/>
<path d="M312.7,375.1V389.1" stroke="#b5600f" stroke-width="1" stroke-dasharray="2.5 1.6" fill="none" clip-path="url(#c2)"/>
<path d="M311.2,375.1H314.2M311.2,389.1H314.2" stroke="#b5600f" stroke-width="1" fill="none" clip-path="url(#c2)"/>
<path d="M347.4,376.1V388.1" stroke="#b5600f" stroke-width="1" stroke-dasharray="2.5 1.6" fill="none" clip-path="url(#c2)"/>
<path d="M345.9,376.1H348.9M345.9,388.1H348.9" stroke="#b5600f" stroke-width="1" fill="none" clip-path="url(#c2)"/>
<circle cx="56.1" cy="418.1" r="2.4" fill="none" stroke="#b5600f" stroke-width="1.25"/>
<circle cx="64.8" cy="418.1" r="2.4" fill="none" stroke="#b5600f" stroke-width="1.25"/>
<circle cx="73.5" cy="412.4" r="2.4" fill="none" stroke="#b5600f" stroke-width="1.25"/>
<circle cx="82.2" cy="406.8" r="2.4" fill="none" stroke="#b5600f" stroke-width="1.25"/>
<circle cx="90.9" cy="403.6" r="2.4" fill="none" stroke="#b5600f" stroke-width="1.25"/>
<circle cx="99.6" cy="401.5" r="2.4" fill="none" stroke="#b5600f" stroke-width="1.25"/>
<circle cx="108.3" cy="398.1" r="2.4" fill="none" stroke="#b5600f" stroke-width="1.25"/>
<circle cx="117.0" cy="397.5" r="2.4" fill="none" stroke="#b5600f" stroke-width="1.25"/>
<circle cx="125.7" cy="394.0" r="2.4" fill="none" stroke="#b5600f" stroke-width="1.25"/>
<circle cx="134.4" cy="393.4" r="2.4" fill="none" stroke="#b5600f" stroke-width="1.25"/>
<circle cx="143.1" cy="393.6" r="2.4" fill="none" stroke="#b5600f" stroke-width="1.25"/>
<circle cx="151.8" cy="397.0" r="2.4" fill="none" stroke="#b5600f" stroke-width="1.25"/>
<circle cx="160.5" cy="398.6" r="2.4" fill="none" stroke="#b5600f" stroke-width="1.25"/>
<circle cx="169.2" cy="391.8" r="2.4" fill="none" stroke="#b5600f" stroke-width="1.25"/>
<circle cx="177.9" cy="394.0" r="2.4" fill="none" stroke="#b5600f" stroke-width="1.25"/>
<circle cx="186.6" cy="393.4" r="2.4" fill="none" stroke="#b5600f" stroke-width="1.25"/>
<circle cx="199.6" cy="394.3" r="2.4" fill="none" stroke="#b5600f" stroke-width="1.25"/>
<circle cx="217.0" cy="387.0" r="2.4" fill="none" stroke="#b5600f" stroke-width="1.25"/>
<circle cx="234.4" cy="389.2" r="2.4" fill="none" stroke="#b5600f" stroke-width="1.25"/>
<circle cx="251.8" cy="382.3" r="2.4" fill="none" stroke="#b5600f" stroke-width="1.25"/>
<circle cx="269.2" cy="361.3" r="2.4" fill="none" stroke="#b5600f" stroke-width="1.25"/>
<circle cx="286.6" cy="360.4" r="2.4" fill="none" stroke="#b5600f" stroke-width="1.25"/>
<circle cx="312.7" cy="382.1" r="2.4" fill="none" stroke="#b5600f" stroke-width="1.25"/>
<circle cx="347.4" cy="382.1" r="2.4" fill="none" stroke="#b5600f" stroke-width="1.25"/>
<polyline points="56.1,401.6 64.8,404.6 73.5,403.0 82.2,402.2 90.9,402.6 99.6,402.6 108.3,405.6 117.0,405.2 125.7,406.2 134.4,404.8 143.1,406.6 151.8,410.1 160.5,410.8 169.2,406.6 177.9,410.1 186.6,410.5 199.6,413.2 217.0,399.6 234.4,405.0 251.8,410.5 269.2,381.0 286.6,374.6 312.7,398.8 347.4,383.4" fill="none" stroke="#3a9a1a" stroke-width="1.05" stroke-dasharray="2.5 1.6" clip-path="url(#c2)"/>
<path d="M199.6,410.2V416.2" stroke="#3a9a1a" stroke-width="1" stroke-dasharray="2.5 1.6" fill="none" clip-path="url(#c2)"/>
<path d="M198.1,410.2H201.1M198.1,416.2H201.1" stroke="#3a9a1a" stroke-width="1" fill="none" clip-path="url(#c2)"/>
<path d="M217.0,396.1V403.1" stroke="#3a9a1a" stroke-width="1" stroke-dasharray="2.5 1.6" fill="none" clip-path="url(#c2)"/>
<path d="M215.5,396.1H218.5M215.5,403.1H218.5" stroke="#3a9a1a" stroke-width="1" fill="none" clip-path="url(#c2)"/>
<path d="M234.4,401.0V409.0" stroke="#3a9a1a" stroke-width="1" stroke-dasharray="2.5 1.6" fill="none" clip-path="url(#c2)"/>
<path d="M232.9,401.0H235.9M232.9,409.0H235.9" stroke="#3a9a1a" stroke-width="1" fill="none" clip-path="url(#c2)"/>
<path d="M251.8,406.0V415.0" stroke="#3a9a1a" stroke-width="1" stroke-dasharray="2.5 1.6" fill="none" clip-path="url(#c2)"/>
<path d="M250.3,406.0H253.3M250.3,415.0H253.3" stroke="#3a9a1a" stroke-width="1" fill="none" clip-path="url(#c2)"/>
<path d="M269.2,376.0V386.0" stroke="#3a9a1a" stroke-width="1" stroke-dasharray="2.5 1.6" fill="none" clip-path="url(#c2)"/>
<path d="M267.7,376.0H270.7M267.7,386.0H270.7" stroke="#3a9a1a" stroke-width="1" fill="none" clip-path="url(#c2)"/>
<path d="M286.6,369.1V380.1" stroke="#3a9a1a" stroke-width="1" stroke-dasharray="2.5 1.6" fill="none" clip-path="url(#c2)"/>
<path d="M285.1,369.1H288.1M285.1,380.1H288.1" stroke="#3a9a1a" stroke-width="1" fill="none" clip-path="url(#c2)"/>
<path d="M312.7,393.3V404.3" stroke="#3a9a1a" stroke-width="1" stroke-dasharray="2.5 1.6" fill="none" clip-path="url(#c2)"/>
<path d="M311.2,393.3H314.2M311.2,404.3H314.2" stroke="#3a9a1a" stroke-width="1" fill="none" clip-path="url(#c2)"/>
<path d="M347.4,377.4V389.4" stroke="#3a9a1a" stroke-width="1" stroke-dasharray="2.5 1.6" fill="none" clip-path="url(#c2)"/>
<path d="M345.9,377.4H348.9M345.9,389.4H348.9" stroke="#3a9a1a" stroke-width="1" fill="none" clip-path="url(#c2)"/>
<rect x="53.7" y="399.2" width="4.8" height="4.8" fill="none" stroke="#3a9a1a" stroke-width="1.2"/>
<rect x="62.4" y="402.2" width="4.8" height="4.8" fill="none" stroke="#3a9a1a" stroke-width="1.2"/>
<rect x="71.1" y="400.6" width="4.8" height="4.8" fill="none" stroke="#3a9a1a" stroke-width="1.2"/>
<rect x="79.8" y="399.8" width="4.8" height="4.8" fill="none" stroke="#3a9a1a" stroke-width="1.2"/>
<rect x="88.5" y="400.2" width="4.8" height="4.8" fill="none" stroke="#3a9a1a" stroke-width="1.2"/>
<rect x="97.2" y="400.2" width="4.8" height="4.8" fill="none" stroke="#3a9a1a" stroke-width="1.2"/>
<rect x="105.9" y="403.2" width="4.8" height="4.8" fill="none" stroke="#3a9a1a" stroke-width="1.2"/>
<rect x="114.6" y="402.8" width="4.8" height="4.8" fill="none" stroke="#3a9a1a" stroke-width="1.2"/>
<rect x="123.3" y="403.8" width="4.8" height="4.8" fill="none" stroke="#3a9a1a" stroke-width="1.2"/>
<rect x="132.0" y="402.4" width="4.8" height="4.8" fill="none" stroke="#3a9a1a" stroke-width="1.2"/>
<rect x="140.7" y="404.2" width="4.8" height="4.8" fill="none" stroke="#3a9a1a" stroke-width="1.2"/>
<rect x="149.4" y="407.7" width="4.8" height="4.8" fill="none" stroke="#3a9a1a" stroke-width="1.2"/>
<rect x="158.1" y="408.4" width="4.8" height="4.8" fill="none" stroke="#3a9a1a" stroke-width="1.2"/>
<rect x="166.8" y="404.2" width="4.8" height="4.8" fill="none" stroke="#3a9a1a" stroke-width="1.2"/>
<rect x="175.5" y="407.7" width="4.8" height="4.8" fill="none" stroke="#3a9a1a" stroke-width="1.2"/>
<rect x="184.2" y="408.1" width="4.8" height="4.8" fill="none" stroke="#3a9a1a" stroke-width="1.2"/>
<rect x="197.2" y="410.8" width="4.8" height="4.8" fill="none" stroke="#3a9a1a" stroke-width="1.2"/>
<rect x="214.6" y="397.2" width="4.8" height="4.8" fill="none" stroke="#3a9a1a" stroke-width="1.2"/>
<rect x="232.0" y="402.6" width="4.8" height="4.8" fill="none" stroke="#3a9a1a" stroke-width="1.2"/>
<rect x="249.4" y="408.1" width="4.8" height="4.8" fill="none" stroke="#3a9a1a" stroke-width="1.2"/>
<rect x="266.8" y="378.6" width="4.8" height="4.8" fill="none" stroke="#3a9a1a" stroke-width="1.2"/>
<rect x="284.2" y="372.2" width="4.8" height="4.8" fill="none" stroke="#3a9a1a" stroke-width="1.2"/>
<rect x="310.3" y="396.4" width="4.8" height="4.8" fill="none" stroke="#3a9a1a" stroke-width="1.2"/>
<rect x="345.0" y="381.0" width="4.8" height="4.8" fill="none" stroke="#3a9a1a" stroke-width="1.2"/>
<polyline points="56.1,389.3 64.8,390.4 73.5,391.4 82.2,394.0 90.9,396.1 99.6,396.1 108.3,399.5 117.0,400.2 125.7,400.9 134.4,399.8 143.1,404.3 151.8,407.8 160.5,407.8 169.2,404.8 177.9,406.2 186.6,410.1 199.6,412.8 217.0,396.8 234.4,400.1 251.8,405.6 269.2,378.3 286.6,367.6 312.7,396.3 347.4,377.0" fill="none" stroke="#0000ff" stroke-width="1.1" clip-path="url(#c2)"/>
<path d="M199.6,409.8V415.8" stroke="#0000ff" stroke-width="1" fill="none" clip-path="url(#c2)"/>
<path d="M198.1,409.8H201.1M198.1,415.8H201.1" stroke="#0000ff" stroke-width="1" fill="none" clip-path="url(#c2)"/>
<path d="M217.0,393.3V400.3" stroke="#0000ff" stroke-width="1" fill="none" clip-path="url(#c2)"/>
<path d="M215.5,393.3H218.5M215.5,400.3H218.5" stroke="#0000ff" stroke-width="1" fill="none" clip-path="url(#c2)"/>
<path d="M234.4,396.1V404.1" stroke="#0000ff" stroke-width="1" fill="none" clip-path="url(#c2)"/>
<path d="M232.9,396.1H235.9M232.9,404.1H235.9" stroke="#0000ff" stroke-width="1" fill="none" clip-path="url(#c2)"/>
<path d="M251.8,401.1V410.1" stroke="#0000ff" stroke-width="1" fill="none" clip-path="url(#c2)"/>
<path d="M250.3,401.1H253.3M250.3,410.1H253.3" stroke="#0000ff" stroke-width="1" fill="none" clip-path="url(#c2)"/>
<path d="M269.2,373.8V382.8" stroke="#0000ff" stroke-width="1" fill="none" clip-path="url(#c2)"/>
<path d="M267.7,373.8H270.7M267.7,382.8H270.7" stroke="#0000ff" stroke-width="1" fill="none" clip-path="url(#c2)"/>
<path d="M286.6,362.6V372.6" stroke="#0000ff" stroke-width="1" fill="none" clip-path="url(#c2)"/>
<path d="M285.1,362.6H288.1M285.1,372.6H288.1" stroke="#0000ff" stroke-width="1" fill="none" clip-path="url(#c2)"/>
<path d="M312.7,391.3V401.3" stroke="#0000ff" stroke-width="1" fill="none" clip-path="url(#c2)"/>
<path d="M311.2,391.3H314.2M311.2,401.3H314.2" stroke="#0000ff" stroke-width="1" fill="none" clip-path="url(#c2)"/>
<path d="M347.4,370.0V384.0" stroke="#0000ff" stroke-width="1" fill="none" clip-path="url(#c2)"/>
<path d="M345.9,370.0H348.9M345.9,384.0H348.9" stroke="#0000ff" stroke-width="1" fill="none" clip-path="url(#c2)"/>
<path d="M56.1,386.6L59.1,392.0L53.1,392.0Z" fill="#0000ff"/>
<path d="M64.8,387.7L67.8,393.1L61.8,393.1Z" fill="#0000ff"/>
<path d="M73.5,388.7L76.5,394.1L70.5,394.1Z" fill="#0000ff"/>
<path d="M82.2,391.3L85.2,396.7L79.2,396.7Z" fill="#0000ff"/>
<path d="M90.9,393.4L93.9,398.8L87.9,398.8Z" fill="#0000ff"/>
<path d="M99.6,393.4L102.6,398.8L96.6,398.8Z" fill="#0000ff"/>
<path d="M108.3,396.8L111.3,402.2L105.3,402.2Z" fill="#0000ff"/>
<path d="M117.0,397.5L120.0,402.9L114.0,402.9Z" fill="#0000ff"/>
<path d="M125.7,398.2L128.7,403.6L122.7,403.6Z" fill="#0000ff"/>
<path d="M134.4,397.1L137.4,402.5L131.4,402.5Z" fill="#0000ff"/>
<path d="M143.1,401.6L146.1,407.0L140.1,407.0Z" fill="#0000ff"/>
<path d="M151.8,405.1L154.8,410.5L148.8,410.5Z" fill="#0000ff"/>
<path d="M160.5,405.1L163.5,410.5L157.5,410.5Z" fill="#0000ff"/>
<path d="M169.2,402.1L172.2,407.5L166.2,407.5Z" fill="#0000ff"/>
<path d="M177.9,403.5L180.9,408.9L174.9,408.9Z" fill="#0000ff"/>
<path d="M186.6,407.4L189.6,412.8L183.6,412.8Z" fill="#0000ff"/>
<path d="M199.6,410.1L202.6,415.5L196.6,415.5Z" fill="#0000ff"/>
<path d="M217.0,394.1L220.0,399.5L214.0,399.5Z" fill="#0000ff"/>
<path d="M234.4,397.4L237.4,402.8L231.4,402.8Z" fill="#0000ff"/>
<path d="M251.8,402.9L254.8,408.3L248.8,408.3Z" fill="#0000ff"/>
<path d="M269.2,375.6L272.2,381.0L266.2,381.0Z" fill="#0000ff"/>
<path d="M286.6,364.9L289.6,370.3L283.6,370.3Z" fill="#0000ff"/>
<path d="M312.7,393.6L315.7,399.0L309.7,399.0Z" fill="#0000ff"/>
<path d="M347.4,374.3L350.4,379.7L344.4,379.7Z" fill="#0000ff"/>
<polyline points="56.1,393.4 64.8,397.5 73.5,402.6 82.2,409.7 90.9,415.3 99.6,417.8 108.3,423.3 117.0,425.2 125.7,424.0 134.4,424.0 143.1,427.3 151.8,430.9 160.5,431.6 169.2,431.6 177.9,427.3 186.6,429.1 199.6,435.5 217.0,422.0 234.4,424.7 251.8,417.9 269.2,396.0 286.6,395.5 312.7,419.0 347.4,396.3" fill="none" stroke="#1b9cc6" stroke-width="1.05" stroke-dasharray="3.4 1.9 1.2 1.9" clip-path="url(#c2)"/>
<path d="M199.6,433.5V437.5" stroke="#1b9cc6" stroke-width="1" stroke-dasharray="3.4 1.9 1.2 1.9" fill="none" clip-path="url(#c2)"/>
<path d="M198.1,433.5H201.1M198.1,437.5H201.1" stroke="#1b9cc6" stroke-width="1" fill="none" clip-path="url(#c2)"/>
<path d="M217.0,419.0V425.0" stroke="#1b9cc6" stroke-width="1" stroke-dasharray="3.4 1.9 1.2 1.9" fill="none" clip-path="url(#c2)"/>
<path d="M215.5,419.0H218.5M215.5,425.0H218.5" stroke="#1b9cc6" stroke-width="1" fill="none" clip-path="url(#c2)"/>
<path d="M234.4,421.7V427.7" stroke="#1b9cc6" stroke-width="1" stroke-dasharray="3.4 1.9 1.2 1.9" fill="none" clip-path="url(#c2)"/>
<path d="M232.9,421.7H235.9M232.9,427.7H235.9" stroke="#1b9cc6" stroke-width="1" fill="none" clip-path="url(#c2)"/>
<path d="M251.8,414.4V421.4" stroke="#1b9cc6" stroke-width="1" stroke-dasharray="3.4 1.9 1.2 1.9" fill="none" clip-path="url(#c2)"/>
<path d="M250.3,414.4H253.3M250.3,421.4H253.3" stroke="#1b9cc6" stroke-width="1" fill="none" clip-path="url(#c2)"/>
<path d="M269.2,392.3V399.7" stroke="#1b9cc6" stroke-width="1" stroke-dasharray="3.4 1.9 1.2 1.9" fill="none" clip-path="url(#c2)"/>
<path d="M267.7,392.3H270.7M267.7,399.7H270.7" stroke="#1b9cc6" stroke-width="1" fill="none" clip-path="url(#c2)"/>
<path d="M286.6,389.8V401.2" stroke="#1b9cc6" stroke-width="1" stroke-dasharray="3.4 1.9 1.2 1.9" fill="none" clip-path="url(#c2)"/>
<path d="M285.1,389.8H288.1M285.1,401.2H288.1" stroke="#1b9cc6" stroke-width="1" fill="none" clip-path="url(#c2)"/>
<path d="M312.7,415.0V423.0" stroke="#1b9cc6" stroke-width="1" stroke-dasharray="3.4 1.9 1.2 1.9" fill="none" clip-path="url(#c2)"/>
<path d="M311.2,415.0H314.2M311.2,423.0H314.2" stroke="#1b9cc6" stroke-width="1" fill="none" clip-path="url(#c2)"/>
<path d="M347.4,390.3V402.3" stroke="#1b9cc6" stroke-width="1" stroke-dasharray="3.4 1.9 1.2 1.9" fill="none" clip-path="url(#c2)"/>
<path d="M345.9,390.3H348.9M345.9,402.3H348.9" stroke="#1b9cc6" stroke-width="1" fill="none" clip-path="url(#c2)"/>
<path d="M56.1,396.1L59.1,390.7L53.1,390.7Z" fill="#1b9cc6"/>
<path d="M64.8,400.2L67.8,394.8L61.8,394.8Z" fill="#1b9cc6"/>
<path d="M73.5,405.3L76.5,399.9L70.5,399.9Z" fill="#1b9cc6"/>
<path d="M82.2,412.4L85.2,407.0L79.2,407.0Z" fill="#1b9cc6"/>
<path d="M90.9,418.0L93.9,412.6L87.9,412.6Z" fill="#1b9cc6"/>
<path d="M99.6,420.5L102.6,415.1L96.6,415.1Z" fill="#1b9cc6"/>
<path d="M108.3,426.0L111.3,420.6L105.3,420.6Z" fill="#1b9cc6"/>
<path d="M117.0,427.9L120.0,422.5L114.0,422.5Z" fill="#1b9cc6"/>
<path d="M125.7,426.7L128.7,421.3L122.7,421.3Z" fill="#1b9cc6"/>
<path d="M134.4,426.7L137.4,421.3L131.4,421.3Z" fill="#1b9cc6"/>
<path d="M143.1,430.0L146.1,424.6L140.1,424.6Z" fill="#1b9cc6"/>
<path d="M151.8,433.6L154.8,428.2L148.8,428.2Z" fill="#1b9cc6"/>
<path d="M160.5,434.3L163.5,428.9L157.5,428.9Z" fill="#1b9cc6"/>
<path d="M169.2,434.3L172.2,428.9L166.2,428.9Z" fill="#1b9cc6"/>
<path d="M177.9,430.0L180.9,424.6L174.9,424.6Z" fill="#1b9cc6"/>
<path d="M186.6,431.8L189.6,426.4L183.6,426.4Z" fill="#1b9cc6"/>
<path d="M199.6,438.2L202.6,432.8L196.6,432.8Z" fill="#1b9cc6"/>
<path d="M217.0,424.7L220.0,419.3L214.0,419.3Z" fill="#1b9cc6"/>
<path d="M234.4,427.4L237.4,422.0L231.4,422.0Z" fill="#1b9cc6"/>
<path d="M251.8,420.6L254.8,415.2L248.8,415.2Z" fill="#1b9cc6"/>
<path d="M269.2,398.7L272.2,393.3L266.2,393.3Z" fill="#1b9cc6"/>
<path d="M286.6,398.2L289.6,392.8L283.6,392.8Z" fill="#1b9cc6"/>
<path d="M312.7,421.7L315.7,416.3L309.7,416.3Z" fill="#1b9cc6"/>
<path d="M347.4,399.0L350.4,393.6L344.4,393.6Z" fill="#1b9cc6"/>
<polyline points="56.1,423.8 64.8,449.7 73.5,464.6 82.2,471.1 90.9,474.8 99.6,472.7 108.3,473.1 117.0,469.5 125.7,465.7 134.4,460.0 143.1,456.5 151.8,460.0 160.5,453.8 169.2,448.5 177.9,447.4 186.6,446.7 199.6,448.6 217.0,431.5 234.4,434.3 251.8,434.3 269.2,407.0 286.6,406.5 312.7,424.6 347.4,406.6" fill="none" stroke="#ff0000" stroke-width="1.05" stroke-dasharray="1.1 1.0" clip-path="url(#c2)"/>
<path d="M251.8,432.3V436.3" stroke="#ff0000" stroke-width="1" stroke-dasharray="1.1 1.0" fill="none" clip-path="url(#c2)"/>
<path d="M250.3,432.3H253.3M250.3,436.3H253.3" stroke="#ff0000" stroke-width="1" fill="none" clip-path="url(#c2)"/>
<path d="M269.2,404.5V409.5" stroke="#ff0000" stroke-width="1" stroke-dasharray="1.1 1.0" fill="none" clip-path="url(#c2)"/>
<path d="M267.7,404.5H270.7M267.7,409.5H270.7" stroke="#ff0000" stroke-width="1" fill="none" clip-path="url(#c2)"/>
<path d="M286.6,403.5V409.5" stroke="#ff0000" stroke-width="1" stroke-dasharray="1.1 1.0" fill="none" clip-path="url(#c2)"/>
<path d="M285.1,403.5H288.1M285.1,409.5H288.1" stroke="#ff0000" stroke-width="1" fill="none" clip-path="url(#c2)"/>
<path d="M312.7,421.6V427.6" stroke="#ff0000" stroke-width="1" stroke-dasharray="1.1 1.0" fill="none" clip-path="url(#c2)"/>
<path d="M311.2,421.6H314.2M311.2,427.6H314.2" stroke="#ff0000" stroke-width="1" fill="none" clip-path="url(#c2)"/>
<path d="M347.4,403.6V409.6" stroke="#ff0000" stroke-width="1" stroke-dasharray="1.1 1.0" fill="none" clip-path="url(#c2)"/>
<path d="M345.9,403.6H348.9M345.9,409.6H348.9" stroke="#ff0000" stroke-width="1" fill="none" clip-path="url(#c2)"/>
<path d="M56.1,420.4L58.4,423.8L56.1,427.2L53.8,423.8Z" fill="#ff0000"/>
<path d="M64.8,446.3L67.1,449.7L64.8,453.1L62.5,449.7Z" fill="#ff0000"/>
<path d="M73.5,461.2L75.8,464.6L73.5,468.0L71.2,464.6Z" fill="#ff0000"/>
<path d="M82.2,467.7L84.5,471.1L82.2,474.5L79.9,471.1Z" fill="#ff0000"/>
<path d="M90.9,471.4L93.2,474.8L90.9,478.2L88.6,474.8Z" fill="#ff0000"/>
<path d="M99.6,469.3L101.9,472.7L99.6,476.1L97.3,472.7Z" fill="#ff0000"/>
<path d="M108.3,469.7L110.6,473.1L108.3,476.5L106.0,473.1Z" fill="#ff0000"/>
<path d="M117.0,466.1L119.3,469.5L117.0,472.9L114.7,469.5Z" fill="#ff0000"/>
<path d="M125.7,462.3L128.0,465.7L125.7,469.1L123.4,465.7Z" fill="#ff0000"/>
<path d="M134.4,456.6L136.7,460.0L134.4,463.4L132.1,460.0Z" fill="#ff0000"/>
<path d="M143.1,453.1L145.4,456.5L143.1,459.9L140.8,456.5Z" fill="#ff0000"/>
<path d="M151.8,456.6L154.1,460.0L151.8,463.4L149.5,460.0Z" fill="#ff0000"/>
<path d="M160.5,450.4L162.8,453.8L160.5,457.2L158.2,453.8Z" fill="#ff0000"/>
<path d="M169.2,445.1L171.5,448.5L169.2,451.9L166.9,448.5Z" fill="#ff0000"/>
<path d="M177.9,444.0L180.2,447.4L177.9,450.8L175.6,447.4Z" fill="#ff0000"/>
<path d="M186.6,443.3L188.9,446.7L186.6,450.1L184.3,446.7Z" fill="#ff0000"/>
<path d="M199.6,445.2L201.9,448.6L199.6,452.0L197.3,448.6Z" fill="#ff0000"/>
<path d="M217.0,428.1L219.3,431.5L217.0,434.9L214.7,431.5Z" fill="#ff0000"/>
<path d="M234.4,430.9L236.7,434.3L234.4,437.7L232.1,434.3Z" fill="#ff0000"/>
<path d="M251.8,430.9L254.1,434.3L251.8,437.7L249.5,434.3Z" fill="#ff0000"/>
<path d="M269.2,403.6L271.5,407.0L269.2,410.4L266.9,407.0Z" fill="#ff0000"/>
<path d="M286.6,403.1L288.9,406.5L286.6,409.9L284.3,406.5Z" fill="#ff0000"/>
<path d="M312.7,421.2L315.0,424.6L312.7,428.0L310.4,424.6Z" fill="#ff0000"/>
<path d="M347.4,403.2L349.7,406.6L347.4,410.0L345.1,406.6Z" fill="#ff0000"/>
<rect x="45.5" y="317.5" width="325.0" height="160.0" fill="none" stroke="#000" stroke-width="1.1"/>
<path d="M51.8,317.5v3M51.8,477.5v-3M69.2,317.5v3M69.2,477.5v-3M86.6,317.5v5M86.6,477.5v-5M104.0,317.5v3M104.0,477.5v-3M121.4,317.5v3M121.4,477.5v-3M138.8,317.5v3M138.8,477.5v-3M156.1,317.5v5M156.1,477.5v-5M173.5,317.5v3M173.5,477.5v-3M190.9,317.5v3M190.9,477.5v-3M208.3,317.5v3M208.3,477.5v-3M225.7,317.5v5M225.7,477.5v-5M243.1,317.5v3M243.1,477.5v-3M260.5,317.5v3M260.5,477.5v-3M277.9,317.5v3M277.9,477.5v-3M295.3,317.5v5M295.3,477.5v-5M312.7,317.5v3M312.7,477.5v-3M330.0,317.5v3M330.0,477.5v-3M347.4,317.5v3M347.4,477.5v-3M364.8,317.5v5M364.8,477.5v-5M45.5,477.5h4M370.5,477.5h-4M45.5,458.0h7M370.5,458.0h-7M45.5,442.1h4M370.5,442.1h-4M45.5,428.6h4M370.5,428.6h-4M45.5,417.0h4M370.5,417.0h-4M45.5,406.7h4M370.5,406.7h-4M45.5,397.5h7M370.5,397.5h-7M45.5,389.2h4M370.5,389.2h-4M45.5,381.6h4M370.5,381.6h-4M45.5,374.6h4M370.5,374.6h-4M45.5,368.1h4M370.5,368.1h-4M45.5,362.1h6M370.5,362.1h-6M45.5,356.5h4M370.5,356.5h-4M45.5,351.2h4M370.5,351.2h-4M45.5,346.2h4M370.5,346.2h-4M45.5,341.5h4M370.5,341.5h-4M45.5,337.0h7M370.5,337.0h-7M45.5,332.7h4M370.5,332.7h-4M45.5,328.7h4M370.5,328.7h-4M45.5,324.8h4M370.5,324.8h-4M45.5,321.1h4M370.5,321.1h-4" stroke="#000" stroke-width="1" fill="none"/>
<path d="M36.65,393.40V401.80" stroke="#000" stroke-width="1.35" fill="none"/><path d="M36.35,393.70L34.25,395.40" stroke="#000" stroke-width="1.05" fill="none"/>
<text x="38.5" y="341.3" font-size="12" text-anchor="end" fill="#000">2</text>
<text x="38.5" y="462.3" font-size="12" text-anchor="end" fill="#000">0.5</text>
<text x="86.6" y="489.3" font-size="11" text-anchor="middle" fill="#000">2</text>
<text x="156.1" y="489.3" font-size="11" text-anchor="middle" fill="#000">4</text>
<text x="225.7" y="489.3" font-size="11" text-anchor="middle" fill="#000">6</text>
<text x="295.3" y="489.3" font-size="11" text-anchor="middle" fill="#000">8</text>
<path d="M362.55,480.80V488.80" stroke="#000" stroke-width="1.3" fill="none"/><path d="M362.25,481.10L360.15,482.80" stroke="#000" stroke-width="1.05" fill="none"/>
<text x="364.4" y="489.3" font-size="11" fill="#000">0</text>
<text transform="translate(18.7,428) rotate(-90)" font-size="9.3" fill="#000">Ratio to ATLAS</text>
<text x="242.6" y="500.6" font-size="13" fill="#000" textLength="7.0" lengthAdjust="spacingAndGlyphs">p</text>
<text x="250.2" y="507.6" font-size="8.5" fill="#000">T</text>
<text x="258.0" y="500.6" font-size="12.3" fill="#000" textLength="115.6" lengthAdjust="spacingAndGlyphs">(leading track) [GeV]</text>
<path d="M377.55,394.90V403.00" stroke="#000" stroke-width="1.35" fill="none"/><path d="M377.25,395.20L375.15,396.90" stroke="#000" stroke-width="1.05" fill="none"/>
<text x="374.0" y="341.3" font-size="12" fill="#000">2</text>
<text x="373.8" y="462.3" font-size="12" fill="#000">0.5</text>
</svg></body></html>
